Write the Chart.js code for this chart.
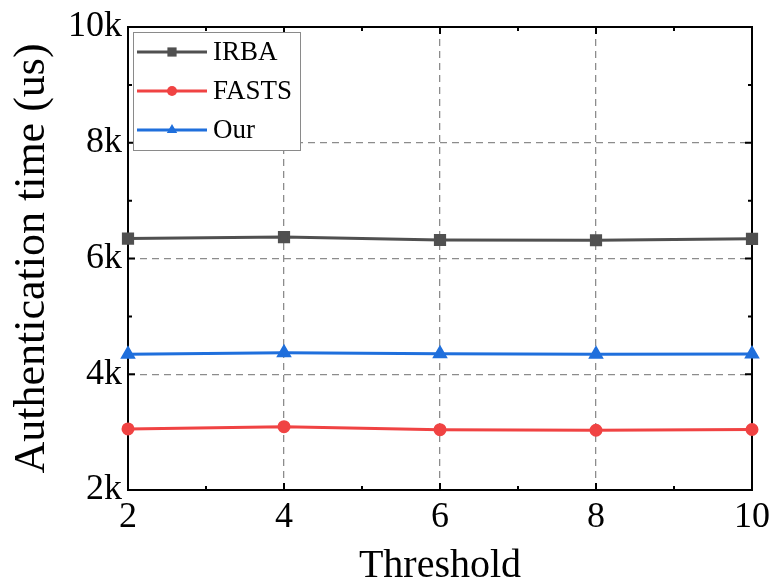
<!DOCTYPE html>
<html lang="en">
<head>
  <meta charset="UTF-8" />
  <title>Authentication time vs Threshold</title>
  <script src="https://cdn.jsdelivr.net/npm/chart.js"></script>
  <style>
    body { margin: 0; background: #ffffff; }
    #wrap { width: 772px; height: 582px; }
  </style>
</head>
<body>
  <div id="wrap"><canvas id="authChart"></canvas></div>

  <script>
    const thresholds = [2, 4, 6, 8, 10];
    const irba = [6345, 6370, 6320, 6315, 6340];
    const fasts = [3055, 3095, 3043, 3032, 3045];
    const ours = [4345, 4373, 4356, 4345, 4350];
    const yTicks = [2000, 4000, 6000, 8000, 10000];

    const serif = "'Liberation Serif', 'DejaVu Serif', serif";

    const toPoints = arr => arr.map((v, i) => ({ x: thresholds[i], y: v }));

    // inward ticks on all four sides plus the black frame
    const frameTicks = {
      id: 'frameTicks',
      beforeDatasetsDraw(chart) {
        const { ctx, chartArea: a, scales: { x, y } } = chart;
        ctx.save();
        ctx.strokeStyle = '#000';
        ctx.lineWidth = 2;
        ctx.strokeRect(a.left, a.top, a.right - a.left, a.bottom - a.top);
        const xs = [];
        for (let v = 2; v <= 10; v += 1) xs.push({ p: x.getPixelForValue(v), major: v % 2 === 0 });
        const ys = [];
        for (let v = 2000; v <= 10000; v += 1000) ys.push({ p: y.getPixelForValue(v), major: v % 2000 === 0 });
        ctx.beginPath();
        xs.forEach(t => {
          const len = t.major ? 7 : 4;
          ctx.moveTo(t.p, a.bottom); ctx.lineTo(t.p, a.bottom - len);
          ctx.moveTo(t.p, a.top); ctx.lineTo(t.p, a.top + len);
        });
        ys.forEach(t => {
          const len = t.major ? 7 : 4;
          ctx.moveTo(a.left, t.p); ctx.lineTo(a.left + len, t.p);
          ctx.moveTo(a.right, t.p); ctx.lineTo(a.right - len, t.p);
        });
        ctx.stroke();
        ctx.restore();
      }
    };

    // boxed legend in the top-left corner of the plot
    const boxLegend = {
      id: 'boxLegend',
      afterDraw(chart) {
        const { ctx, chartArea: a } = chart;
        const bx = a.left + 5, by = a.top + 5, bw = 167, bh = 118;
        ctx.save();
        ctx.fillStyle = '#fff';
        ctx.fillRect(bx, by, bw, bh);
        ctx.strokeStyle = '#8a8a8a';
        ctx.lineWidth = 1;
        ctx.strokeRect(bx + 0.5, by + 0.5, bw, bh);
        chart.data.datasets.forEach((ds, i) => {
          const cy = by + 20 + i * 39;
          ctx.strokeStyle = ds.borderColor;
          ctx.lineWidth = 3;
          ctx.beginPath();
          ctx.moveTo(bx + 4, cy);
          ctx.lineTo(bx + 74, cy);
          ctx.stroke();
          ctx.fillStyle = ds.borderColor;
          Chart.helpers.drawPoint(ctx, {
            pointStyle: ds.pointStyle, radius: ds.pointRadius, rotation: 0, borderWidth: 0
          }, bx + 39, cy);
          ctx.fillStyle = '#000';
          ctx.font = '27px ' + serif;
          ctx.textBaseline = 'middle';
          ctx.textAlign = 'left';
          ctx.fillText(ds.label, bx + 80, cy + 1);
        });
        ctx.restore();
      }
    };

    const edgeClear = (lo, hi) => c => (c.tick && (c.tick.value === lo || c.tick.value === hi)) ? 'rgba(0,0,0,0)' : '#8c8c8c';

    new Chart(document.getElementById('authChart'), {
      type: 'line',
      data: {
        datasets: [
          { label: 'IRBA', data: toPoints(irba), borderColor: '#505050', backgroundColor: '#505050', pointStyle: 'rect', pointRadius: 6.5, borderWidth: 3 },
          { label: 'FASTS', data: toPoints(fasts), borderColor: '#f04343', backgroundColor: '#f04343', pointStyle: 'circle', pointRadius: 5, borderWidth: 3 },
          { label: 'Our', data: toPoints(ours), borderColor: '#1f6fdc', backgroundColor: '#1f6fdc', pointStyle: 'triangle', pointRadius: 6, borderWidth: 3 }
        ]
      },
      options: {
        responsive: true,
        maintainAspectRatio: false,
        animation: false,
        clip: false,
        layout: { padding: { left: 0, top: 27, right: 20, bottom: 0 } },
        plugins: { legend: { display: false }, tooltip: { enabled: false } },
        elements: { point: { borderWidth: 0, hoverRadius: 6 }, line: { tension: 0 } },
        scales: {
          x: {
            type: 'linear',
            min: 2, max: 10,
            afterFit: s => { s.height = 92; s.paddingLeft = 0; s.paddingRight = 0; },
            ticks: { stepSize: 2, padding: 6, color: '#000', font: { family: serif, size: 36 } },
            grid: { color: edgeClear(2, 10), lineWidth: 1.3, drawTicks: false },
            border: { display: false, dash: [7, 5] },
            title: { display: true, text: 'Threshold', color: '#000', font: { family: serif, size: 40 }, padding: { top: 0, bottom: -8 } }
          },
          y: {
            min: 2000, max: 10000,
            afterFit: s => { s.width = 128; s.paddingTop = 0; s.paddingBottom = 0; },
            afterBuildTicks: s => { s.ticks = yTicks.map(v => ({ value: v })); },
            ticks: { padding: 6, color: '#000', font: { family: serif, size: 36 }, callback: v => (v / 1000) + 'k' },
            grid: { color: edgeClear(2000, 10000), lineWidth: 1.3, drawTicks: false },
            border: { display: false, dash: [7, 5] },
            title: { display: true, text: 'Authentication time (us)', color: '#000', font: { family: serif, size: 44 }, padding: { top: 6, bottom: 0 } }
          }
        }
      },
      plugins: [frameTicks, boxLegend]
    });
  </script>
</body>
</html>
